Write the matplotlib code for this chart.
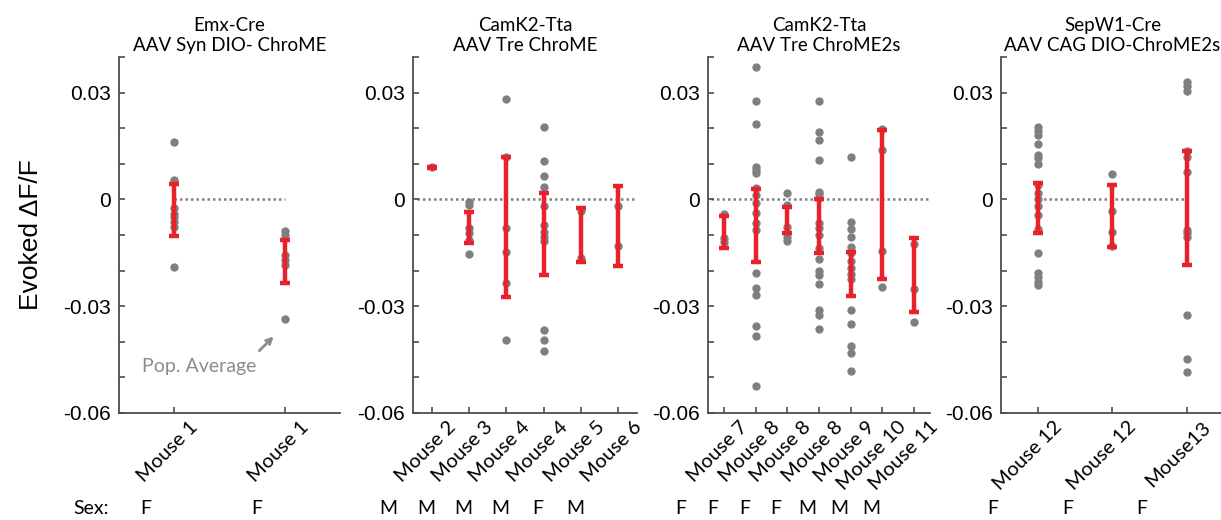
import matplotlib
matplotlib.use("Agg")
import matplotlib.pyplot as plt
import matplotlib.transforms as mtransforms
import numpy as np

# ---- data ----
titles = ["Emx-Cre\nAAV Syn DIO- ChroME",
          "CamK2-Tta\nAAV Tre ChroME",
          "CamK2-Tta\nAAV Tre ChroME2s",
          "SepW1-Cre\nAAV CAG DIO-ChroME2s"]

labels1 = ["Mouse 1", "Mouse 1"]
labels2 = ["Mouse 2", "Mouse 3", "Mouse 4", "Mouse 4", "Mouse 5", "Mouse 6"]
labels3 = ["Mouse 7", "Mouse 8", "Mouse 8", "Mouse 8", "Mouse 9", "Mouse 10", "Mouse 11"]
labels4 = ["Mouse 12", "Mouse 12", "Mouse13"]

sex1 = ["F", "F"]
sex2 = ["M", "M", "M", "M", "F", "M"]
sex3 = ["F", "F", "F", "F", "M", "M", "M"]
sex4 = ["F", "F", "F"]

# individual cells (grey dots)
dots1 = [
    [0.0162, 0.0054, 0.0048, -0.0025, -0.0040, -0.0050, -0.0063, -0.0077, -0.0189],
    [-0.0089, -0.0100, -0.0156, -0.0170, -0.0184, -0.0336],
]
dots2 = [
    [0.0090],
    [-0.0007, -0.0016, -0.0080, -0.0095, -0.0114, -0.0153],
    [0.0281, 0.0118, -0.0081, -0.0147, -0.0236, -0.0396],
    [0.0204, 0.0108, 0.0066, 0.0034, -0.0019, -0.0072, -0.0091, -0.0105, -0.0116,
     -0.0366, -0.0396, -0.0425],
    [-0.0032, -0.0165],
    [-0.0018, -0.0131],
]
dots3 = [
    [-0.0042, -0.0109, -0.0119],
    [0.0372, 0.0276, 0.0213, 0.0092, 0.0082, 0.0073, 0.0031, 0.0012, -0.0011, -0.0039,
     -0.0067, -0.0086, -0.0206, -0.0250, -0.0268, -0.0357, -0.0385, -0.0525],
    [0.0017, -0.0016, -0.0077, -0.0105, -0.0116],
    [0.0276, 0.0190, 0.0166, 0.0110, 0.0021, 0.0014, 0.0003, -0.0067, -0.0081, -0.0100,
     -0.0137, -0.0168, -0.0200, -0.0212, -0.0237, -0.0312, -0.0324, -0.0364],
    [0.0118, -0.0063, -0.0084, -0.0107, -0.0133, -0.0151, -0.0172, -0.0193, -0.0209,
     -0.0224, -0.0312, -0.0350, -0.0411, -0.0432, -0.0483],
    [0.0199, 0.0138, -0.0144, -0.0245],
    [-0.0126, -0.0252, -0.0343],
]
dots4 = [
    [0.0204, 0.0193, 0.0180, 0.0155, 0.0124, 0.0115, 0.0099, 0.0040, 0.0017, 0.0000,
     -0.0019, -0.0044, -0.0084, -0.0150, -0.0207, -0.0217, -0.0231, -0.0240],
    [0.0071, -0.0032, -0.0091, -0.0131],
    [0.0330, 0.0318, 0.0305, 0.0136, 0.0120, 0.0078, -0.0086, -0.0095, -0.0107,
     -0.0324, -0.0449, -0.0486],
]

# red bars: top and bottom of each bar
bar_hi1 = [0.0042, -0.0114]
bar_lo1 = [-0.0102, -0.0236]
bar_hi2 = [0.0092, -0.0035, 0.0118, 0.0017, -0.0025, 0.0038]
bar_lo2 = [0.0088, -0.0123, -0.0273, -0.0212, -0.0175, -0.0186]
bar_hi3 = [-0.0046, 0.0028, -0.0021, 0.0001, -0.0147, 0.0194, -0.0109]
bar_lo3 = [-0.0137, -0.0177, -0.0093, -0.0151, -0.0270, -0.0224, -0.0315]
bar_hi4 = [0.0045, 0.0040, 0.0136]
bar_lo4 = [-0.0093, -0.0133, -0.0184]

# ---- style ----
GREY = "#7f7f7f"
RED = "#e8212b"
AX = "#4d4d4d"
font_h = "Liberation Sans"
font_m = "Lato"

fig = plt.figure(figsize=(12.21, 5.2), dpi=100)

# axes boxes in pixels: left, right
boxes = [(119, 340), (413, 637), (708, 930), (1001, 1224)]
top_px, bot_px = 57, 413
W, H = 1221, 520

panels = [
    (labels1, sex1, dots1, bar_hi1, bar_lo1),
    (labels2, sex2, dots2, bar_hi2, bar_lo2),
    (labels3, sex3, dots3, bar_hi3, bar_lo3),
    (labels4, sex4, dots4, bar_hi4, bar_lo4),
]
sex_offsets = [-28, -43, -43, -45]

for i, (labels, sex, dots, hi, lo) in enumerate(panels):
    l, r = boxes[i]
    ax = fig.add_axes([l / W, (H - bot_px) / H, (r - l) / W, (bot_px - top_px) / H])
    n = len(labels)
    xs = np.arange(1, n + 1)

    # zero line
    if i in (0, 3):
        ax.plot([1, n], [0, 0], ls=(0, (1, 1.2)), color="#808080", lw=1.8, zorder=1)
    else:
        ax.plot([0.6, n + 0.5], [0, 0], ls=(0, (1, 1.2)), color="#808080", lw=1.8, zorder=1)

    for x, d in zip(xs, dots):
        ax.plot(np.full(len(d), x), d, "o", color=GREY, ms=6, mec="none", zorder=2)

    hi = np.array(hi)
    lo = np.array(lo)
    mid = (hi + lo) / 2
    half = (hi - lo) / 2
    ax.errorbar(xs, mid, yerr=half, fmt="none", ecolor=RED, elinewidth=3.2,
                capsize=3.6, capthick=3.2, zorder=3)

    ax.set_xlim(0.5, n + 0.5)
    ax.set_ylim(-0.06, 0.04)
    ax.tick_params(direction="in", length=4, color=AX, width=1.2)
    ax.tick_params(axis="y", pad=6)
    ax.tick_params(axis="x", pad=6)
    ax.set_yticks(np.arange(-0.06, 0.0401, 0.01))
    ax.set_yticklabels(["-0.06", "", "", "-0.03", "", "", "0", "", "", "0.03", ""],
                       fontsize=15, family=font_h)
    ax.set_xticks(xs)
    ax.set_xticklabels(labels, rotation=45, ha="right", rotation_mode="anchor",
                       fontsize=14.5, family=font_m)
    shift = mtransforms.ScaledTranslation(0.15, 0.03, fig.dpi_scale_trans)
    for t in ax.get_xticklabels():
        t.set_transform(t.get_transform() + shift)
    for s in ("top", "right"):
        ax.spines[s].set_visible(False)
    for s in ("left", "bottom"):
        ax.spines[s].set_color(AX)
        ax.spines[s].set_linewidth(1.3)
    ax.set_title(titles[i], fontsize=13.5, family=font_m, linespacing=1.25, pad=4)

    trans = mtransforms.blended_transform_factory(ax.transData, fig.transFigure)
    trans = mtransforms.offset_copy(trans, fig=fig, x=sex_offsets[i], y=0, units="dots")
    for x, s in zip(xs, sex):
        ax.text(x, 0.023, s, transform=trans, ha="center", va="center",
                fontsize=14, family=font_m, clip_on=False)

    if i == 0:
        ax.set_ylabel("Evoked \u0394F/F", fontsize=19, family=font_h, labelpad=14)
        ax.text(0.105, 0.13, "Pop. Average", transform=ax.transAxes, ha="left",
                va="center", fontsize=14, family=font_m, color="#8c8c8c")
        ax.annotate("", xy=(1.9, -0.0385), xytext=(1.77, -0.0425),
                    arrowprops=dict(arrowstyle="->", color="#8c8c8c", lw=2,
                                    shrinkA=0, shrinkB=0))

fig.text(73 / W, 0.023, "Sex:", ha="left", va="center", fontsize=14, family=font_m)

fig.savefig("out.png", dpi=100)
